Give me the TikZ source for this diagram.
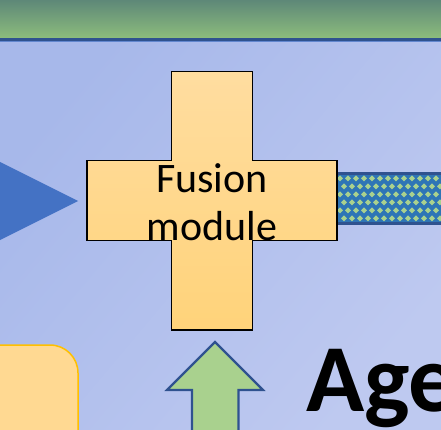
\documentclass[tikz,border=0pt]{standalone}
\usepackage{fontspec}
\setmainfont{Carlito}
\usetikzlibrary{positioning}

\definecolor{bandtop}{RGB}{94,136,120}
\definecolor{bandbottom}{RGB}{140,188,124}
\definecolor{frameblue}{RGB}{47,82,143}
\definecolor{bgleft}{RGB}{167,184,234}
\definecolor{bgright}{RGB}{190,201,240}
\definecolor{crosstop}{RGB}{255,221,160}
\definecolor{crossbottom}{RGB}{255,211,122}
\definecolor{inputblue}{RGB}{68,114,196}
\definecolor{barblue}{RGB}{46,117,182}
\definecolor{leafgreen}{RGB}{169,209,142}
\definecolor{boxorange}{RGB}{255,217,146}
\definecolor{boxline}{RGB}{255,192,0}

\begin{document}
\begin{tikzpicture}[x=1pt, y=-1pt,
	crossshape/.style={draw=black, line width=1.5pt, top color=crosstop, bottom color=crossbottom},
	blockarrow/.style={draw=frameblue, line width=2.2pt, fill=leafgreen, line join=miter},
	labeltext/.style={font=\fontsize{42}{48}\selectfont, align=center, inner sep=0pt}]

	\useasboundingbox (0,0) rectangle (441,430);
	\clip (0,0) rectangle (441,430);

	% Background
	\shade[left color=bgleft, right color=bgright, shading angle=50] (0,40) rectangle (441,430);
	\shade[top color=bandtop, bottom color=bandbottom] (0,0) rectangle (441,38);
	\draw[frameblue, line width=3pt] (0,39.5) -- (441,39.5);
	\draw[inputblue!70!bgleft, line width=1pt] (0,41.5) -- (441,41.5);

	% Input arrow
	\coordinate (intip) at (78,201);
	\fill[inputblue] (intip) -- (0,162) -- (0,240) -- cycle;

	% Output bar
	\fill[barblue] (337,173.5) rectangle (445,223.5);
	\begin{scope}
		\clip (337,175) rectangle (445,222);
		\foreach \j in {0,...,5} {
			\foreach \i in {0,...,14} {
				\pgfmathsetmacro{\dx}{mod(\j,2)*4}
				\fill[leafgreen] ({337+8*\i+\dx},{178.3+8*\j}) -- ++(3,-3) -- ++(3,3) -- ++(-3,3) -- cycle;
			}
		}
	\end{scope}
	\draw[frameblue, line width=3pt] (445,173.5) -- (337,173.5) (337,223.5) -- (445,223.5);

	% Fusion cross
	\draw[crossshape] (171.5,71.5) -- (252.5,71.5) -- (252.5,160.5) -- (337,160.5) -- (337,240.5)
		-- (252.5,240.5) -- (252.5,330) -- (171.5,330) -- (171.5,240.5) -- (87,240.5)
		-- (87,160.5) -- (171.5,160.5) -- cycle;
	\node[labeltext] (fusion) at (212,202) {Fusion\\module};

	% Bottom row
	\draw[fill=boxorange, draw=boxline, line width=1.5pt, rounded corners=28pt] (-30,345) rectangle (78,470);
	\draw[blockarrow] (215,342) -- (263,390) -- (238.5,390) -- (238.5,440) -- (192,440)
		-- (192,390) -- (167,390) -- cycle;
	\node[font=\fontsize{96}{110}\selectfont\bfseries, anchor=base west, inner sep=0pt] (age) at (306,411.5) {Age};

\end{tikzpicture}
\end{document}
